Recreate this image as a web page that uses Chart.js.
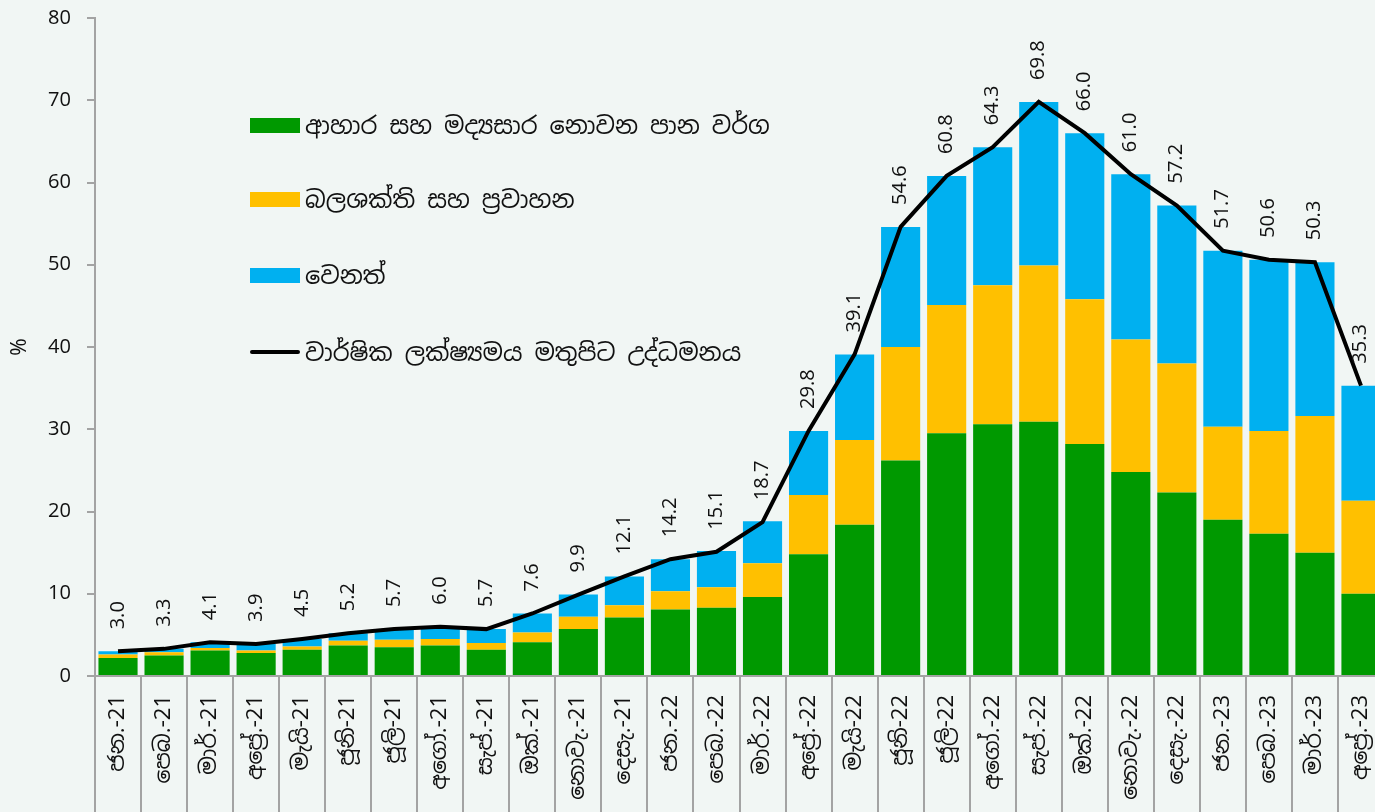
<!DOCTYPE html>
<html>
<head>
<meta charset="utf-8">
<script src="https://cdn.jsdelivr.net/npm/chart.js@4.4.0/dist/chart.umd.min.js"></script>
<style>
    html, body { margin: 0; padding: 0; background: #f1f6f4; overflow: hidden; }
    #wrap { position: relative; width: 1384px; height: 812px; }
    #legend { position: absolute; left: 250px; top: 0; font-family: "Noto Sans Sinhala", "Noto Sans", sans-serif; font-size: 24px; color: #111; }
    .item { position: absolute; left: 0; display: flex; align-items: center; white-space: nowrap; height: 30px; }
    .swatch { width: 50px; height: 15px; margin-right: 5px; }
    .swatch.line { height: 4px; border-radius: 2px; }
</style>
</head>
<body>
<div id="wrap">
    <canvas id="chart"></canvas>
    <div id="legend"></div>
</div>
<script>
const months = [
    "ජන.-21", "පෙබ.-21", "මාර්.-21", "අප්‍රේ.-21", "මැයි-21", "ජූනි-21", "ජූලි-21", "අගෝ.-21", "සැප්.-21", "ඔක්.-21", "නොවැ.-21", "දෙසැ.-21",
    "ජන.-22", "පෙබ.-22", "මාර්.-22", "අප්‍රේ.-22", "මැයි-22", "ජූනි-22", "ජූලි-22", "අගෝ.-22", "සැප්.-22", "ඔක්.-22", "නොවැ.-22", "දෙසැ.-22",
    "ජන.-23", "පෙබ.-23", "මාර්.-23", "අප්‍රේ.-23"
];

// contributions (percentage points)
const food = [2.2, 2.5, 3.1, 2.8, 3.2, 3.7, 3.5, 3.7, 3.2, 4.1, 5.7, 7.1, 8.1, 8.3, 9.6, 14.8, 18.4, 26.2, 29.5, 30.6, 30.9, 28.2, 24.8, 22.3, 19.0, 17.3, 15.0, 10.0];
const energy = [0.4, 0.4, 0.3, 0.3, 0.4, 0.6, 0.9, 0.8, 0.8, 1.2, 1.5, 1.5, 2.2, 2.5, 4.1, 7.2, 10.3, 13.8, 15.6, 16.9, 19.0, 17.6, 16.1, 15.7, 11.3, 12.5, 16.6, 11.3];
const other = [0.4, 0.4, 0.7, 0.8, 0.9, 0.9, 1.3, 1.5, 1.7, 2.3, 2.7, 3.5, 3.9, 4.4, 5.1, 7.8, 10.4, 14.6, 15.7, 16.8, 19.9, 20.2, 20.1, 19.2, 21.4, 20.8, 18.7, 14.0];
const headline = [3.0, 3.3, 4.1, 3.9, 4.5, 5.2, 5.7, 6.0, 5.7, 7.6, 9.9, 12.1, 14.2, 15.1, 18.7, 29.8, 39.1, 54.6, 60.8, 64.3, 69.8, 66.0, 61.0, 57.2, 51.7, 50.6, 50.3, 35.3];

const yTicks = [0, 10, 20, 30, 40, 50, 60, 70, 80];

const seriesNames = [
    "ආහාර සහ මද්‍යසාර නොවන පාන වර්ග",
    "බලශක්ති සහ ප්‍රවාහන",
    "වෙනත්",
    "වාර්ෂික ලක්ෂ්‍යමය මතුපිට උද්ධමනය"
];

const fontFam = "'Noto Sans Sinhala', 'Noto Sans', sans-serif";
const axisGray = "#a3a3a3";

// rotated value labels above the headline line
const lineLabels = {
    id: "lineLabels",
    afterDatasetsDraw(chart) {
        const meta = chart.getDatasetMeta(3);
        const ctx = chart.ctx;
        ctx.save();
        ctx.font = "20px " + fontFam;
        ctx.fillStyle = "#111";
        ctx.textAlign = "left";
        ctx.textBaseline = "middle";
        meta.data.forEach((pt, i) => {
            ctx.save();
            ctx.translate(pt.x, pt.y - 22);
            ctx.rotate(-Math.PI / 2);
            ctx.fillText(headline[i].toFixed(1), 0, 0);
            ctx.restore();
        });
        ctx.restore();
    }
};

const ctx = document.getElementById("chart").getContext("2d");

const chart = new Chart(ctx, {
    type: "bar",
    data: {
        labels: months,
        datasets: [
            { label: seriesNames[0], data: food, backgroundColor: "#009900", stack: "s", order: 2 },
            { label: seriesNames[1], data: energy, backgroundColor: "#ffc000", stack: "s", order: 2 },
            { label: seriesNames[2], data: other, backgroundColor: "#00b0f0", stack: "s", order: 2 },
            {
                type: "line", label: seriesNames[3], data: headline,
                borderColor: "#000000", borderWidth: 4, pointRadius: 0,
                tension: 0, order: 1
            }
        ]
    },
    options: {
        responsive: true,
        maintainAspectRatio: false,
        animation: false,
        layout: { padding: { top: 18, right: 0, left: 0, bottom: 0 } },
        datasets: {
            bar: { categoryPercentage: 1.0, barPercentage: 0.85 }
        },
        plugins: {
            legend: { display: false },
            tooltip: { enabled: false }
        },
        scales: {
            x: {
                stacked: true,
                offset: true,
                border: { display: true, color: axisGray, width: 2 },
                grid: {
                    offset: true,
                    drawOnChartArea: false,
                    tickLength: 136,
                    color: axisGray,
                    lineWidth: 2
                },
                ticks: {
                    autoSkip: false,
                    minRotation: 90,
                    maxRotation: 90,
                    padding: -117,
                    color: "#111",
                    font: { family: fontFam, size: 22 }
                },
                afterFit(scale) { scale.height = 136; }
            },
            y: {
                stacked: true,
                min: 0,
                max: 80,
                border: { display: true, color: axisGray, width: 2 },
                grid: {
                    drawOnChartArea: false,
                    tickLength: 8,
                    color: axisGray,
                    lineWidth: 2
                },
                afterBuildTicks(scale) {
                    scale.ticks = yTicks.map(v => ({ value: v }));
                },
                ticks: {
                    padding: 16,
                    color: "#111",
                    font: { family: fontFam, size: 20 }
                },
                title: {
                    display: true,
                    text: "%",
                    color: "#111",
                    padding: { top: 8, bottom: 0 },
                    font: { family: fontFam, size: 21 }
                },
                afterFit(scale) {
                    scale.width = 95;
                    scale.paddingTop = 0;
                    scale.paddingBottom = 0;
                }
            }
        }
    },
    plugins: [lineLabels]
});

// legend overlay inside the plot
const legendEl = document.getElementById("legend");
const legendTops = [110, 184, 260, 337];
chart.data.datasets.forEach((ds, i) => {
    const item = document.createElement("div");
    item.className = "item";
    item.style.top = legendTops[i] + "px";
    const sw = document.createElement("span");
    sw.className = "swatch" + (ds.type === "line" ? " line" : "");
    sw.style.background = ds.type === "line" ? ds.borderColor : ds.backgroundColor;
    const txt = document.createElement("span");
    txt.textContent = ds.label;
    item.appendChild(sw);
    item.appendChild(txt);
    legendEl.appendChild(item);
});
</script>
</body>
</html>
